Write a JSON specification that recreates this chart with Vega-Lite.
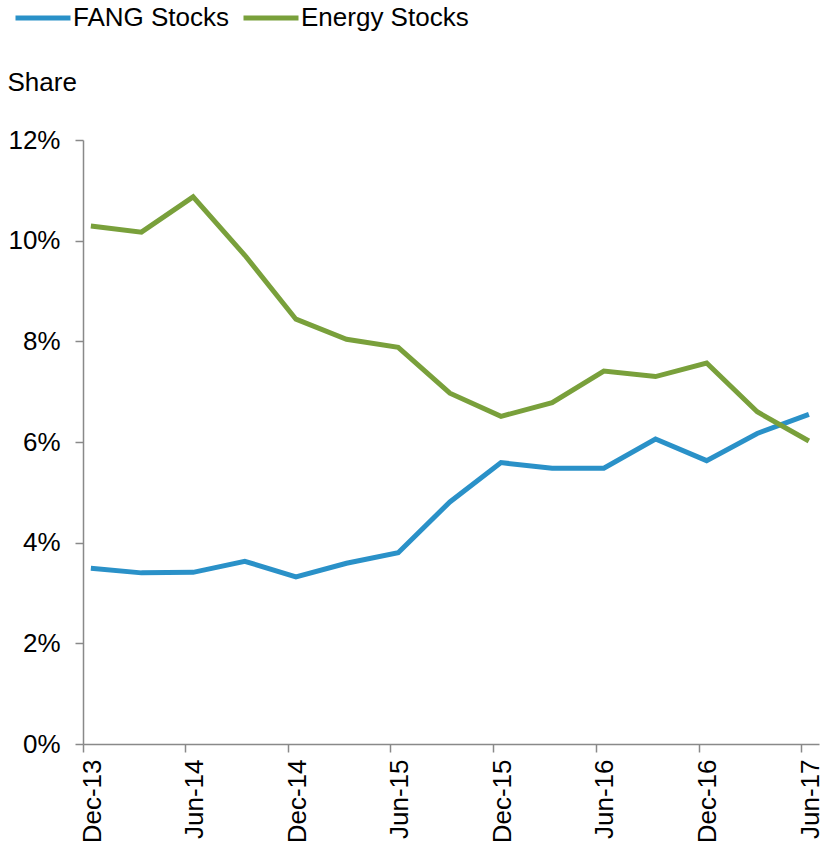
{
  "$schema": "https://vega.github.io/schema/vega-lite/v6.json",
  "width": 736,
  "height": 604,
  "autosize": "none",
  "padding": {"left": 83, "top": 140, "right": 2, "bottom": 102},
  "config": {
    "view": {"stroke": null},
    "font": "Liberation Sans",
    "axis": {
      "grid": false,
      "domainColor": "#898989",
      "domainWidth": 1.5,
      "tickColor": "#898989",
      "tickWidth": 1.5,
      "tickSize": 8,
      "labelColor": "#000000",
      "labelFont": "Liberation Sans",
      "labelFontSize": 26,
      "titleFont": "Liberation Sans",
      "titleFontSize": 26,
      "titleFontWeight": "normal",
      "titleColor": "#000000"
    },
    "legend": {
      "labelFont": "Liberation Sans",
      "labelFontSize": 26,
      "labelColor": "#000000",
      "labelLimit": 400
    }
  },
  "data": {
    "values": [
      {"date": "2013-12-15T00:00:00", "series": "FANG Stocks", "value": 0.0349},
      {"date": "2014-03-15T00:00:00", "series": "FANG Stocks", "value": 0.0340},
      {"date": "2014-06-15T00:00:00", "series": "FANG Stocks", "value": 0.0341},
      {"date": "2014-09-15T00:00:00", "series": "FANG Stocks", "value": 0.0363},
      {"date": "2014-12-15T00:00:00", "series": "FANG Stocks", "value": 0.0332},
      {"date": "2015-03-15T00:00:00", "series": "FANG Stocks", "value": 0.0359},
      {"date": "2015-06-15T00:00:00", "series": "FANG Stocks", "value": 0.0380},
      {"date": "2015-09-15T00:00:00", "series": "FANG Stocks", "value": 0.0481},
      {"date": "2015-12-15T00:00:00", "series": "FANG Stocks", "value": 0.0559},
      {"date": "2016-03-15T00:00:00", "series": "FANG Stocks", "value": 0.0548},
      {"date": "2016-06-15T00:00:00", "series": "FANG Stocks", "value": 0.0548},
      {"date": "2016-09-15T00:00:00", "series": "FANG Stocks", "value": 0.0606},
      {"date": "2016-12-15T00:00:00", "series": "FANG Stocks", "value": 0.0563},
      {"date": "2017-03-15T00:00:00", "series": "FANG Stocks", "value": 0.0617},
      {"date": "2017-06-15T00:00:00", "series": "FANG Stocks", "value": 0.0655},
      {"date": "2013-12-15T00:00:00", "series": "Energy Stocks", "value": 0.1029},
      {"date": "2014-03-15T00:00:00", "series": "Energy Stocks", "value": 0.1017},
      {"date": "2014-06-15T00:00:00", "series": "Energy Stocks", "value": 0.1087},
      {"date": "2014-09-15T00:00:00", "series": "Energy Stocks", "value": 0.0971},
      {"date": "2014-12-15T00:00:00", "series": "Energy Stocks", "value": 0.0844},
      {"date": "2015-03-15T00:00:00", "series": "Energy Stocks", "value": 0.0804},
      {"date": "2015-06-15T00:00:00", "series": "Energy Stocks", "value": 0.0788},
      {"date": "2015-09-15T00:00:00", "series": "Energy Stocks", "value": 0.0697},
      {"date": "2015-12-15T00:00:00", "series": "Energy Stocks", "value": 0.0651},
      {"date": "2016-03-15T00:00:00", "series": "Energy Stocks", "value": 0.0678},
      {"date": "2016-06-15T00:00:00", "series": "Energy Stocks", "value": 0.0741},
      {"date": "2016-09-15T00:00:00", "series": "Energy Stocks", "value": 0.0730},
      {"date": "2016-12-15T00:00:00", "series": "Energy Stocks", "value": 0.0757},
      {"date": "2017-03-15T00:00:00", "series": "Energy Stocks", "value": 0.0660},
      {"date": "2017-06-15T00:00:00", "series": "Energy Stocks", "value": 0.0602}
    ]
  },
  "mark": {"type": "line", "strokeWidth": 5, "strokeJoin": "miter", "clip": false},
  "encoding": {
    "x": {
      "field": "date",
      "type": "temporal",
      "scale": {
        "domain": [
          {"year": 2013, "month": 12, "date": 1},
          {"year": 2017, "month": 7, "date": 3}
        ]
      },
      "axis": {
        "title": null,
        "format": "%b-%y",
        "labelAngle": -90,
        "labelPadding": 7,
        "labelOffset": 9,
        "labelOverlap": false,
        "labelFlush": false,
        "values": [
          {"year": 2013, "month": 12, "date": 1},
          {"year": 2014, "month": 6, "date": 1},
          {"year": 2014, "month": 12, "date": 1},
          {"year": 2015, "month": 6, "date": 1},
          {"year": 2015, "month": 12, "date": 1},
          {"year": 2016, "month": 6, "date": 1},
          {"year": 2016, "month": 12, "date": 1},
          {"year": 2017, "month": 6, "date": 1}
        ]
      }
    },
    "y": {
      "field": "value",
      "type": "quantitative",
      "scale": {"domain": [0, 0.12], "nice": false},
      "axis": {
        "title": "Share",
        "titleAngle": 0,
        "titleAlign": "left",
        "titleBaseline": "alphabetic",
        "titleX": -76,
        "titleY": -50,
        "format": ".0%",
        "values": [0, 0.02, 0.04, 0.06, 0.08, 0.1, 0.12],
        "labelPadding": 15
      }
    },
    "color": {
      "field": "series",
      "type": "nominal",
      "scale": {
        "domain": ["FANG Stocks", "Energy Stocks"],
        "range": ["#2a91c8", "#79a03b"]
      },
      "legend": {
        "title": null,
        "orient": "none",
        "direction": "horizontal",
        "legendX": -70,
        "legendY": -152,
        "symbolType": "stroke",
        "symbolSize": 3025,
        "symbolStrokeWidth": 5,
        "labelOffset": 0,
        "columnPadding": 3,
        "padding": 0
      }
    }
  }
}
